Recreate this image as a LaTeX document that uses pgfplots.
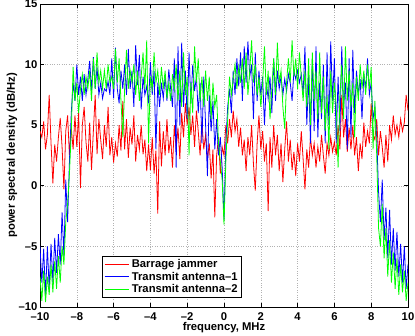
\documentclass[border=0pt]{standalone}
\usepackage{pgfplots}
\pgfplotsset{compat=1.18}
\usepackage{pgfplotstable}
\usepackage{fontspec}
\setmainfont{Liberation Sans}
\definecolor{mred}{rgb}{1,0,0}
\definecolor{mblue}{rgb}{0,0,1}
\definecolor{mgreen}{rgb}{0,1,0}

\pgfplotstableread{
x r b g
-10.0 4.5 -5.0 -7.5
-9.9 4.0 -8.0 -9.5
-9.8 5.3 -5.2 -7.0
-9.7 3.0 -9.2 -9.6
-9.6 4.2 -5.0 -7.5
-9.5 7.5 -8.5 -9.0
-9.4 3.5 -4.8 -6.5
-9.3 0.2 -8.0 -8.8
-9.2 3.4 -4.3 -6.2
-9.1 2.0 -7.2 -8.5
-9.0 4.0 -4.0 -5.8
-8.9 5.6 -6.5 -8.0
-8.8 3.2 -2.2 -5.0
-8.7 -0.3 -5.8 -6.5
-8.6 4.5 0.5 -3.0
-8.5 5.8 -3.0 -1.5
-8.4 2.5 2.0 1.0
-8.3 4.8 6.0 4.5
-8.2 3.0 8.5 9.8
-8.1 5.8 7.0 7.0
-8.0 3.2 10.0 8.5
-7.9 6.0 7.5 6.0
-7.8 -0.2 9.0 8.0
-7.7 5.0 7.0 9.2
-7.6 6.5 9.2 7.5
-7.5 3.6 7.5 9.0
-7.4 2.0 8.8 8.0
-7.3 5.2 10.3 9.5
-7.2 1.3 7.8 7.0
-7.1 4.5 10.6 10.5
-7.0 7.5 8.0 8.0
-6.9 2.6 9.8 11.0
-6.8 5.5 7.5 8.5
-6.7 3.8 8.5 9.5
-6.6 2.2 7.2 8.0
-6.5 5.0 8.0 9.5
-6.4 3.2 7.8 8.0
-6.3 6.5 8.6 10.0
-6.2 2.5 7.5 8.5
-6.1 4.0 10.5 9.0
-6.0 1.9 7.2 8.0
-5.9 3.5 11.4 11.3
-5.8 2.4 8.0 8.5
-5.7 5.0 6.8 10.5
-5.6 2.9 9.5 7.0
-5.5 7.0 8.0 4.0
-5.4 3.0 10.0 8.0
-5.3 5.5 7.5 11.2
-5.2 2.3 11.3 8.0
-5.1 4.8 8.0 9.5
-5.0 3.4 9.5 8.5
-4.9 5.8 6.5 10.0
-4.8 2.0 11.6 7.5
-4.7 4.2 8.3 9.5
-4.6 3.0 10.8 7.0
-4.5 5.0 6.3 9.0
-4.4 2.6 9.0 11.0
-4.3 3.8 7.5 8.0
-4.2 1.2 8.2 12.0
-4.1 3.4 6.8 3.5
-4.0 1.3 10.2 9.0
-3.9 4.0 7.5 8.0
-3.8 1.0 9.5 11.0
-3.7 2.9 3.0 8.5
-3.6 -2.3 8.5 9.5
-3.5 5.3 6.5 7.5
-3.4 1.6 8.5 9.8
-3.3 4.5 7.2 8.0
-3.2 2.5 9.0 9.5
-3.1 5.5 7.0 7.2
-3.0 2.7 9.6 8.5
-2.9 4.0 8.0 7.0
-2.8 1.5 6.5 9.2
-2.7 5.0 10.5 8.0
-2.6 3.0 1.5 10.0
-2.5 4.8 11.5 7.0
-2.4 2.2 5.0 9.5
-2.3 6.0 11.8 6.5
-2.2 4.0 6.5 11.0
-2.1 6.8 9.5 7.5
-2.0 5.0 5.5 9.0
-1.9 6.5 11.0 2.5
-1.8 4.2 6.8 8.5
-1.7 5.8 10.0 6.0
-1.6 3.2 7.8 11.5
-1.5 6.2 9.0 8.5
-1.4 4.5 6.0 10.5
-1.3 2.5 8.5 7.0
-1.2 5.3 3.5 9.0
-1.1 3.0 9.0 6.5
-1.0 4.2 5.0 9.5
-0.9 2.2 0.8 7.0
-0.8 3.5 7.5 9.0
-0.7 0.6 4.5 5.5
-0.6 3.0 7.0 8.5
-0.5 -2.6 3.0 6.5
-0.4 2.5 5.5 7.5
-0.3 4.0 2.5 3.5
-0.2 1.0 4.0 2.0
-0.1 3.2 1.5 0.5
0.0 2.5 -2.8 -3.2
0.1 5.0 3.5 2.0
0.2 3.5 6.5 5.5
0.3 5.5 8.0 9.0
0.4 4.0 6.0 7.5
0.5 6.2 9.5 8.8
0.6 4.5 7.5 10.0
0.7 5.5 10.5 8.0
0.8 3.2 8.2 9.8
0.9 4.8 11.0 8.5
1.0 2.5 7.0 10.5
1.1 3.8 11.5 8.0
1.2 1.2 8.5 11.0
1.3 4.0 11.9 7.5
1.4 2.5 9.0 9.5
1.5 5.0 10.0 12.0
1.6 1.8 5.5 8.5
1.7 -0.4 11.0 10.0
1.8 3.5 7.0 7.5
1.9 5.8 9.5 9.0
2.0 3.0 7.5 6.5
2.1 4.5 9.0 8.5
2.2 2.0 5.0 11.5
2.3 3.5 8.5 7.5
2.4 -2.1 7.2 9.5
2.5 4.0 9.0 5.5
2.6 1.5 6.0 8.0
2.7 5.0 10.5 10.5
2.8 2.5 7.0 7.5
2.9 4.2 9.5 11.8
3.0 1.2 8.0 8.5
3.1 3.5 9.0 9.5
3.2 0.3 7.5 6.5
3.3 3.0 8.8 4.7
3.4 5.3 7.8 8.5
3.5 2.0 9.2 10.5
3.6 3.8 8.5 8.5
3.7 1.3 7.0 12.0
3.8 2.8 9.5 9.0
3.9 0.8 8.8 10.5
4.0 3.5 9.5 8.0
4.1 2.0 8.5 11.0
4.2 4.5 9.2 9.0
4.3 2.2 7.5 7.0
4.4 -0.3 11.5 9.5
4.5 3.0 5.0 6.5
4.6 1.5 9.0 10.5
4.7 4.0 3.5 5.0
4.8 2.5 10.5 11.0
4.9 3.5 4.5 7.0
5.0 1.5 11.5 9.5
5.1 3.2 4.0 5.5
5.2 2.0 8.5 11.0
5.3 4.2 5.5 6.0
5.4 2.5 10.0 9.0
5.5 1.0 3.5 4.5
5.6 3.5 11.0 7.5
5.7 2.5 5.0 3.0
5.8 4.0 11.9 9.5
5.9 2.8 7.0 6.0
6.0 3.6 10.5 8.5
6.1 2.5 3.5 6.5
6.2 5.0 9.0 1.5
6.3 3.0 4.5 7.5
6.4 7.5 11.5 10.0
6.5 4.0 6.5 5.5
6.6 5.5 8.5 11.5
6.7 2.8 3.0 7.0
6.8 4.8 10.5 9.5
6.9 3.0 4.0 6.5
7.0 5.0 11.2 8.5
7.1 2.5 6.0 4.0
7.2 4.0 9.5 9.0
7.3 1.2 7.5 7.0
7.4 3.5 8.8 10.0
7.5 2.2 5.5 8.0
7.6 5.2 9.2 9.5
7.7 3.2 8.0 7.5
7.8 4.5 10.5 10.0
7.9 3.5 7.5 8.0
8.0 6.8 8.5 9.8
8.1 4.2 5.5 3.0
8.2 3.8 6.5 7.0
8.3 5.5 4.0 2.5
8.4 2.5 -0.5 -3.5
8.5 4.5 -3.0 -5.0
8.6 3.2 0.5 -1.5
8.7 1.5 -4.5 -6.0
8.8 4.2 -1.8 -3.5
8.9 2.0 -6.0 -7.5
9.0 5.0 -2.0 -4.5
9.1 3.8 -6.5 -8.0
9.2 5.8 -3.5 -5.5
9.3 4.2 -7.0 -8.5
9.4 5.0 -3.8 -6.0
9.5 4.0 -7.5 -9.0
9.6 5.5 -4.8 -6.5
9.7 4.5 -8.0 -8.8
9.8 5.2 -5.0 -7.0
9.9 7.5 -8.5 -9.5
10.0 6.2 -6.5 -8.0
}\psd

\begin{document}
\begin{tikzpicture}
\begin{axis}[
  scale only axis,
  width=368bp, height=303bp,
  xmin=-10, xmax=10, ymin=-10, ymax=15,
  xtick={-10,-8,...,10},
  xticklabels={--10,--8,--6,--4,--2,0,2,4,6,8,10},
  ytick={-10,-5,0,5,10,15},
  yticklabels={--10,--5,0,5,10,15},
  tick pos=both, tick align=inside,
  major tick length=4bp,
  grid=major,
  major grid style={gray!60, dotted},
  axis line style={black, line width=0.6pt},
  every tick/.style={black, line width=0.5pt},
  tick label style={font=\fontsize{11.3}{13}\selectfont\bfseries, inner sep=0pt},
  xticklabel style={yshift=-5.5bp},
  yticklabel style={xshift=-2.5bp},
  label style={font=\fontsize{11.3}{13}\selectfont\bfseries, inner sep=0pt},
  xlabel={frequency, MHz},
  ylabel={power spectral density (dB/Hz)},
  xlabel style={at={(axis description cs:0.5,-0.079)}, anchor=base},
  ylabel style={at={(axis description cs:-0.068,0.5)}, anchor=base},
  legend style={at={(0.168,0.03)}, anchor=south west, draw=black, line width=0.6pt,
    font=\fontsize{11.3}{13}\selectfont\bfseries, inner xsep=2bp, inner ysep=1.5bp,
    row sep=-1.2bp, cells={anchor=west}},
  legend image code/.code={\draw[line width=0.8pt,#1] (0cm,0cm) -- (0.88cm,0cm);},
  every axis plot/.append style={line width=0.8pt},
]
\addplot[color=mred, no marks] table[x=x, y=r] {\psd};
\addplot[color=mblue, no marks] table[x=x, y=b] {\psd};
\addplot[color=mgreen, no marks] table[x=x, y=g] {\psd};
\legend{Barrage jammer, Transmit antenna--1, Transmit antenna--2}
\coordinate (sw) at (rel axis cs:0,0);
\coordinate (ne) at (rel axis cs:1,1);
\end{axis}
\path ([shift={(-40bp,-29bp)}]sw) rectangle ([shift={(7bp,3bp)}]ne);
\end{tikzpicture}
\end{document}
